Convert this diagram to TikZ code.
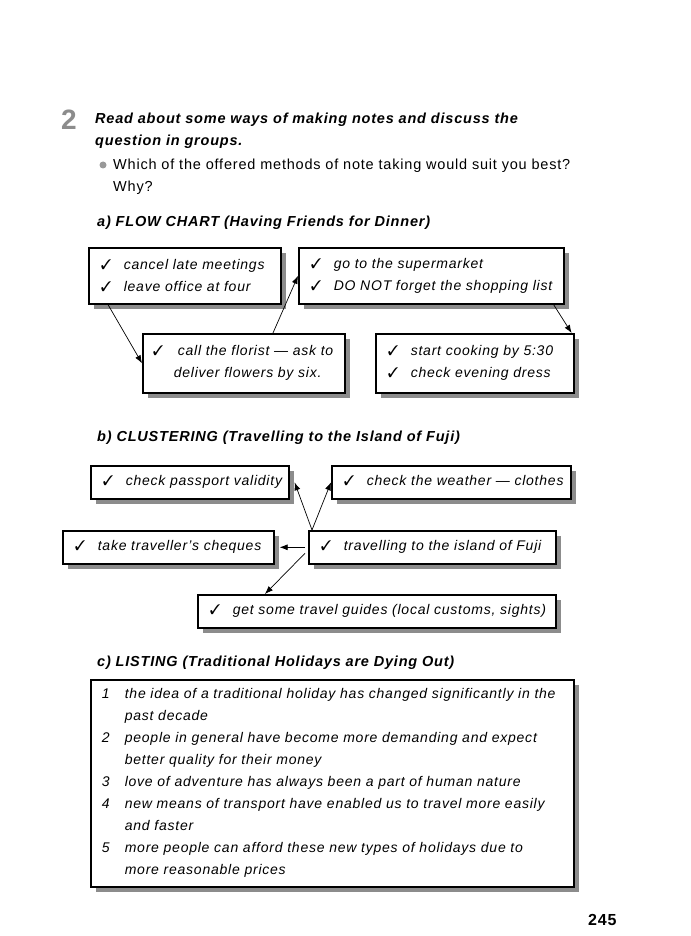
\documentclass[tikz,border=0pt]{standalone}
\usepackage{fontspec}
\setmainfont{Liberation Sans}[LetterSpace=5.5]
\usepackage{pifont}
\usetikzlibrary{arrows.meta,shadows}

\newcommand{\chk}{\hspace*{12pt}\makebox[23pt][l]{\ding{51}}}
\newcommand{\num}[1]{\hspace*{11pt}\makebox[23pt][l]{#1}}
\newcommand{\cont}{\hspace*{34pt}}

\begin{document}
\begin{tikzpicture}[x=1pt, y=-1pt, >={Latex[length=8pt,width=6pt]},
    box/.style={draw, line width=1.6pt, fill=white, anchor=north west,
        inner xsep=0pt, inner ysep=0pt, text width=#1, align=left,
        drop shadow={shadow xshift=5pt, shadow yshift=-5pt, fill=black!45, opacity=1},
        execute at begin node={\vphantom{Ay}},
        font=\itshape\fontsize{14}{22}\selectfont},
    head/.style={anchor=base west, inner sep=0pt, font=\bfseries\itshape\fontsize{14.5}{22}\selectfont},
    plain/.style={anchor=base west, inner sep=0pt, font=\fontsize{14.5}{22}\selectfont},
    link/.style={->, line width=0.7pt}]
    \path[fill=white] (0,0) rectangle (690,936);
    \useasboundingbox (0,0) rectangle (690,936);
    % task
    \node[anchor=base west, inner sep=0pt, text=black!45, font=\bfseries\fontsize{28}{28}\selectfont] (task) at (61,130) {2};
    \node[head] (q1) at (95,124) {Read about some ways of making notes and discuss the};
    \node[head] (q2) at (95,146) {question in groups.};
    \node[circle, fill=black!40, inner sep=0pt, minimum size=7pt] (dot) at (103,165) {};
    \node[plain] (w1) at (113,170) {Which of the offered methods of note taking would suit you best?};
    \node[plain] (w2) at (113,192) {Why?};
    % a) flow chart
    \node[head] (ta) at (97,226) {a) FLOW CHART (Having Friends for Dinner)};
    \node[box=192pt, minimum height=56pt] (a1) at (88,247) {\chk cancel late meetings\\ \chk leave office at four};
    \node[box=202pt, minimum height=59pt] (a2) at (142,333) {\hspace*{10pt}\makebox[25pt][l]{\ding{51}}call the florist --- ask to\\ \hspace*{31pt}deliver flowers by six.};
    \node[box=265pt, minimum height=56pt] (a3) at (298,247) {\chk go to the supermarket\\ \chk DO NOT forget the shopping list};
    \node[box=198pt, minimum height=59pt] (a4) at (375,333) {\chk start cooking by 5:30\\ \chk check evening dress};
    \draw[link] ([xshift=20pt]a1.south west) -- (a2.west);
    \draw[link] ([xshift=131pt]a2.north west) -- (a3.west);
    \draw[link] ([xshift=-11pt]a3.south east) -- ([xshift=-3pt]a4.north east);
    % b) clustering
    \node[head] (tb) at (97,441) {b) CLUSTERING (Travelling to the Island of Fuji)};
    \node[box=198pt, minimum height=33pt] (b1) at (90,465) {\chk check passport validity};
    \node[box=239pt, minimum height=33pt] (b2) at (331,465) {\chk check the weather --- clothes};
    \node[box=211pt, minimum height=33pt] (b3) at (62,530) {\chk take traveller's cheques};
    \node[box=247pt, minimum height=33pt] (b0) at (308,530) {\chk travelling to the island of Fuji};
    \node[box=358pt, minimum height=33pt] (b4) at (197,594) {\chk get some travel guides (local customs, sights)};
    \draw[link] ([xshift=4pt]b0.north west) -- ([xshift=5pt]b1.east);
    \draw[link] ([xshift=4pt]b0.north west) -- (b2.west);
    \draw[link] ([xshift=-3pt]b0.west) -- ([xshift=5pt]b3.east);
    \draw[link] ([xshift=-3pt, yshift=-6pt]b0.west) -- ([xshift=68pt]b4.north west);
    % c) listing
    \node[head] (tc) at (97,666) {c) LISTING (Traditional Holidays are Dying Out)};
    \node[box=483pt, minimum height=207pt] (list) at (90,679) {%
        \num{1}the idea of a traditional holiday has changed significantly in the\\
        \cont past decade\\
        \num{2}people in general have become more demanding and expect\\
        \cont better quality for their money\\
        \num{3}love of adventure has always been a part of human nature\\
        \num{4}new means of transport have enabled us to travel more easily\\
        \cont and faster\\
        \num{5}more people can afford these new types of holidays due to\\
        \cont more reasonable prices};
    \node[anchor=base west, inner sep=0pt, font=\bfseries\fontsize{16}{16}\selectfont] (page) at (588,925) {245};
\end{tikzpicture}
\end{document}
